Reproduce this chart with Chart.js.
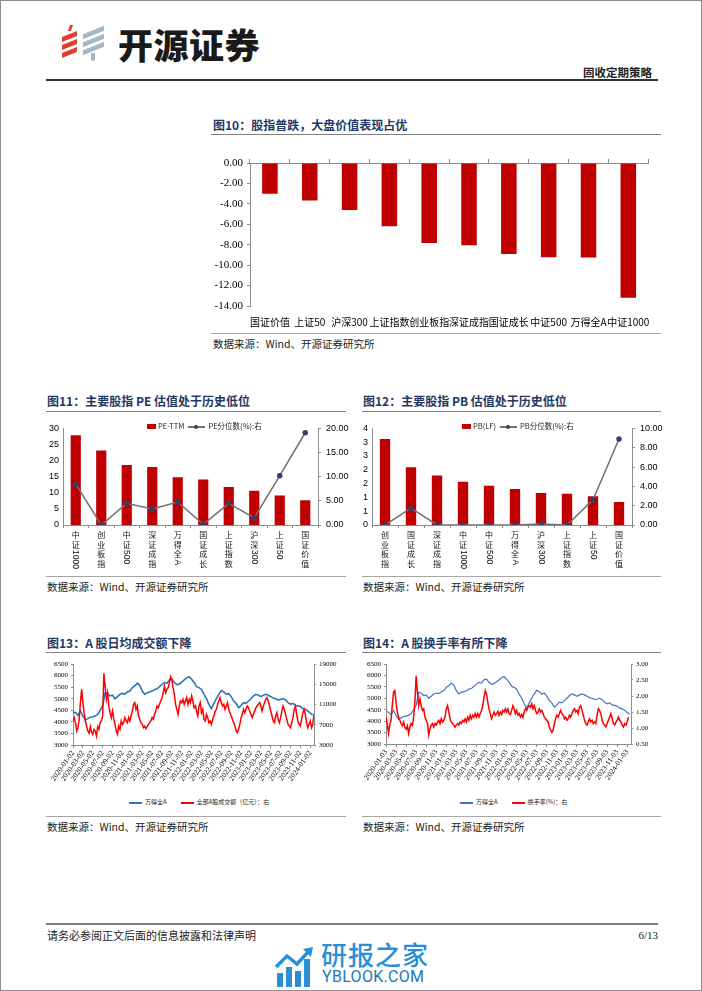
<!DOCTYPE html>
<html>
<head>
<meta charset="utf-8">
<script src="https://cdn.jsdelivr.net/npm/chart.js@4.4.1/dist/chart.umd.min.js"></script>
<style>
html, body { margin: 0; padding: 0; background: #fff; }
#page { position: relative; width: 700px; height: 989px; border: 1px solid #8c8c8c; overflow: hidden; font-family: 'Noto Sans CJK SC', sans-serif; }
.abs { position: absolute; }
.title { position: absolute; font-size: 12px; font-weight: 700; color: #1F3864; white-space: nowrap; line-height: 14px; }
.rule { position: absolute; height: 0; border-top: 1px solid #808080; }
.src { position: absolute; font-size: 10.5px; color: #222; white-space: nowrap; line-height: 12px; }
canvas { position: absolute; }
.legend { position: absolute; white-space: nowrap; color: #222; }
.legend span { display: inline-block; vertical-align: middle; }
.sw-bar { display: inline-block; width: 9px; height: 5px; margin-right: 2px; vertical-align: middle; }
.sw-line { display: inline-block; position: relative; height: 1.5px; margin-right: 3px; vertical-align: middle; }
.sw-line b { position: absolute; left: 6px; top: -1.5px; width: 4px; height: 4px; border-radius: 50%; }
</style>
</head>
<body>
<div id="page">
  <!-- header -->
  <div class="abs" style="left:68px;top:24px;width:3px;height:6px;background:#E0402F;transform:skewX(-20deg)"></div>
  <div class="abs" style="left:61px;top:33px;width:15px;height:5px;background:#E0402F;transform:skewY(-22deg)"></div>
  <div class="abs" style="left:61px;top:41px;width:15px;height:5px;background:#E0402F;transform:skewY(-22deg)"></div>
  <div class="abs" style="left:61px;top:49px;width:15px;height:5px;background:#E0402F;transform:skewY(-22deg)"></div>
  <div class="abs" style="left:82px;top:29px;width:21px;height:5px;background:#A3B7C6;transform:skewY(-22deg)"></div>
  <div class="abs" style="left:82px;top:37px;width:21px;height:5px;background:#A3B7C6;transform:skewY(-22deg)"></div>
  <div class="abs" style="left:82px;top:45px;width:21px;height:5px;background:#A3B7C6;transform:skewY(-22deg)"></div>
  <div class="abs" style="left:90px;top:52px;width:4px;height:8px;background:#A3B7C6;border-radius:0 0 3px 3px"></div>
  <div class="abs" style="left:117px;top:23px;font-size:35px;font-weight:900;line-height:40px;color:#1a1a1a;letter-spacing:0.5px">开源证券</div>
  <div class="abs" style="left:582px;top:64px;font-size:11.5px;font-weight:700;line-height:14px;color:#222">固收定期策略</div>
  <div class="abs" style="left:45px;top:78px;width:612px;height:1.5px;background:#333"></div>

  <!-- figure 10 -->
  <div class="title" style="left:212px;top:117px">图10：股指普跌，大盘价值表现占优</div>
  <div class="rule" style="left:210px;top:133px;width:450px"></div>
  <canvas id="c10" width="455" height="180" style="left:204px;top:149px"></canvas>
  <div class="rule" style="left:210px;top:332px;width:450px;border-color:#a6a6a6"></div>
  <div class="src" style="left:212px;top:337px">数据来源：Wind、开源证券研究所</div>

  <!-- figure 11 -->
  <div class="title" style="left:46px;top:393px">图11：主要股指 PE 估值处于历史低位</div>
  <div class="rule" style="left:45px;top:410px;width:300px"></div>
  <canvas id="c11" width="310" height="155" style="left:39px;top:417px"></canvas>
  <div class="legend" id="lg11" style="left:146px;top:419px;font-size:7.5px;line-height:10px"></div>
  <div class="rule" style="left:45px;top:575px;width:300px;border-color:#a6a6a6"></div>
  <div class="src" style="left:46px;top:580px">数据来源：Wind、开源证券研究所</div>

  <!-- figure 12 -->
  <div class="title" style="left:362px;top:393px">图12：主要股指 PB 估值处于历史低位</div>
  <div class="rule" style="left:361px;top:410px;width:299px"></div>
  <canvas id="c12" width="310" height="155" style="left:354px;top:417px"></canvas>
  <div class="legend" id="lg12" style="left:461px;top:419px;font-size:7.5px;line-height:10px"></div>
  <div class="rule" style="left:361px;top:575px;width:299px;border-color:#a6a6a6"></div>
  <div class="src" style="left:362px;top:580px">数据来源：Wind、开源证券研究所</div>

  <!-- figure 13 -->
  <div class="title" style="left:46px;top:635px">图13：A 股日均成交额下降</div>
  <div class="rule" style="left:45px;top:651px;width:300px"></div>
  <canvas id="c13" width="310" height="140" style="left:39px;top:654px"></canvas>
  <div class="legend" id="lg13" style="left:128px;top:796px;font-size:6px;line-height:10px"></div>
  <div class="rule" style="left:45px;top:815px;width:300px;border-color:#a6a6a6"></div>
  <div class="src" style="left:46px;top:820px">数据来源：Wind、开源证券研究所</div>

  <!-- figure 14 -->
  <div class="title" style="left:362px;top:635px">图14：A 股换手率有所下降</div>
  <div class="rule" style="left:361px;top:651px;width:299px"></div>
  <canvas id="c14" width="310" height="140" style="left:354px;top:654px"></canvas>
  <div class="legend" id="lg14" style="left:459px;top:796px;font-size:6px;line-height:10px"></div>
  <div class="rule" style="left:361px;top:815px;width:299px;border-color:#a6a6a6"></div>
  <div class="src" style="left:362px;top:820px">数据来源：Wind、开源证券研究所</div>

  <!-- footer -->
  <div class="abs" style="left:45px;top:922px;width:612px;height:2px;background:#7a7a7a"></div>
  <div class="abs" style="left:46px;top:928px;font-size:11px;line-height:13px;color:#222">请务必参阅正文后面的信息披露和法律声明</div>
  <div class="abs" style="left:630px;top:928px;width:27px;text-align:right;font-family:'Liberation Serif',serif;font-size:11px;line-height:13px;color:#222">6/13</div>
  <svg class="abs" style="left:274px;top:946px" width="40" height="42" viewBox="0 0 40 42">
    <rect x="2" y="26" width="6" height="14" fill="#2B8FD6"/>
    <rect x="11" y="20" width="6" height="20" fill="#2B8FD6"/>
    <rect x="20" y="24" width="6" height="16" fill="#2B8FD6"/>
    <rect x="29" y="12" width="6" height="28" fill="#2B8FD6"/>
    <polyline points="1,20 12,9 22,17 34,4" fill="none" stroke="#2B8FD6" stroke-width="3.5"/>
    <polygon points="28,2 38,0 36,10" fill="#2B8FD6"/>
  </svg>
  <div class="abs" style="left:320px;top:938px;font-size:26px;font-weight:500;line-height:30px;color:#2B8FD6;letter-spacing:1px">研报之家</div>
  <div class="abs" style="left:321px;top:967px;font-family:Roboto,'Noto Sans',sans-serif;font-size:16px;line-height:18px;color:#2176B8;letter-spacing:0.3px">YBLOOK.COM</div>
</div>

<script>
// 图10 区间涨跌幅(%)
const cat10 = ['国证价值', '上证50', '沪深300', '上证指数', '创业板指', '深证成指', '国证成长', '中证500', '万得全A', '中证1000'];
const ret10 = [-3.02, -3.67, -4.61, -6.20, -7.83, -8.06, -8.90, -9.22, -9.24, -13.19];

// 图11 PE
const cat11 = ['中证1000', '创业板指', '中证500', '深证成指', '万得全A', '国证成长', '上证指数', '沪深300', '上证50', '国证价值'];
const pe11 = [27.9, 23.1, 18.6, 18.0, 14.8, 14.1, 11.8, 10.6, 9.2, 7.7];
const pePct11 = [8.45, 0.0, 4.49, 3.30, 4.75, 0.13, 4.49, 1.45, 10.2, 19.1];

// 图12 PB
const cat12 = ['创业板指', '国证成长', '深证成指', '中证1000', '中证500', '万得全A', '沪深300', '上证指数', '上证50', '国证价值'];
const pb12 = [3.12, 2.09, 1.79, 1.57, 1.42, 1.30, 1.16, 1.13, 1.04, 0.83];
const pbPct12 = [0, 1.75, 0, 0, 0, 0, 0.1, 0, 2.6, 8.9];

// 图13/14 x 轴标签 (每两个月)
const dates13 = ['2020-01-02', '2020-03-02', '2020-05-02', '2020-07-02', '2020-09-02', '2020-11-02',
  '2021-01-02', '2021-03-02', '2021-05-02', '2021-07-02', '2021-09-02', '2021-11-02',
  '2022-01-02', '2022-03-02', '2022-05-02', '2022-07-02', '2022-09-02', '2022-11-02',
  '2023-01-02', '2023-03-02', '2023-05-02', '2023-07-02', '2023-09-02', '2023-11-02', '2024-01-02'];
const dates14 = ['2020-01-03', '2020-03-03', '2020-05-03', '2020-07-03', '2020-09-03', '2020-11-03',
  '2021-01-03', '2021-03-03', '2021-05-03', '2021-07-03', '2021-09-03', '2021-11-03',
  '2022-01-03', '2022-03-03', '2022-05-03', '2022-07-03', '2022-09-03', '2022-11-03',
  '2023-01-03', '2023-03-03', '2023-05-03', '2023-07-03', '2023-09-03', '2023-11-03', '2024-01-03'];

// 万得全A，半月一个点
const windA = [4410, 4400, 4280, 4470, 4250, 4080, 4140, 4210, 4220, 4250,
  4330, 4500, 4690, 5260, 5230, 5120, 5150, 5000, 5090, 5190,
  5230, 5200, 5290, 5330, 5480, 5550, 5670, 5580, 5330, 5190,
  5260, 5290, 5330, 5400, 5430, 5520, 5620, 5700, 5670, 5810,
  5840, 5700, 5610, 5640, 5720, 5810, 5900, 5950, 5840, 5700,
  5520, 5480, 5400, 5190, 5000, 4760, 4570, 4800, 5000, 5190,
  5350, 5290, 5190, 5230, 5090, 4900, 4800, 4610, 4710, 4830,
  4800, 4900, 5000, 5120, 5190, 5150, 5090, 5150, 5190, 5150,
  5090, 5030, 5000, 4950, 4970, 5000, 4950, 4830, 4760, 4800,
  4710, 4690, 4660, 4570, 4540, 4470, 4380, 4300];

// 全部A股成交额(亿元)，每1/4月一个点
const amount13 = [7740, 8400, 7410, 5760, 6420, 8070, 11360, 14000, 11360, 9390,
  7740, 6750, 5760, 5300, 6620, 5570, 5110, 6090, 5760, 4780,
  6620, 6090, 7410, 7740, 8730, 17160, 14650, 12020, 13340, 10700,
  9390, 8400, 9720, 8070, 7080, 5760, 5110, 6750, 6090, 7740,
  7080, 7410, 8400, 7740, 7410, 8400, 7740, 8730, 9720, 11030,
  11360, 10040, 10700, 8730, 8070, 7410, 7080, 6420, 6750, 6220,
  6620, 7080, 7410, 7740, 8400, 8070, 9060, 9720, 10700, 10370,
  11030, 11690, 12350, 13340, 14650, 13340, 14000, 14320, 15310, 16500,
  15970, 14320, 13010, 11030, 10040, 9060, 10700, 11690, 11360, 12020,
  11030, 11690, 12350, 11030, 12020, 11360, 12680, 11690, 10370, 10700,
  9720, 8730, 10700, 11360, 9390, 10040, 8070, 7740, 9060, 8400,
  7410, 7740, 7080, 8070, 8730, 9720, 10040, 11030, 11690, 12350,
  11360, 10700, 11030, 10040, 10700, 11360, 10040, 9390, 8730, 8070,
  7410, 6750, 5760, 5440, 6090, 7080, 8400, 9060, 10040, 9390,
  10040, 10700, 10370, 9720, 9060, 8400, 9060, 9720, 10370, 10700,
  11030, 11360, 10700, 9720, 10700, 11360, 12020, 12350, 11690, 10700,
  9720, 8730, 7740, 7410, 8730, 9390, 8070, 7410, 8400, 9720,
  10700, 10040, 9060, 8070, 7080, 6750, 6420, 7410, 8400, 10040,
  10700, 9060, 7740, 7080, 6750, 8070, 9390, 10040, 9060, 7410,
  6420, 7080, 7740, 6420, 7080, 9060];

// 换手率(%)，每1/4月一个点
const turnover14 = [1.34, 1.14, 0.83, 1.09, 1.24, 1.70, 2.12, 2.17, 1.81, 1.50,
  1.34, 1.24, 1.14, 1.07, 1.19, 1.03, 0.96, 1.07, 0.83, 1.03,
  1.14, 1.09, 1.34, 1.81, 2.63, 2.12, 1.70, 1.91, 1.70, 1.55,
  1.60, 1.34, 1.24, 1.14, 0.78, 0.98, 1.09, 1.14, 1.03, 1.14,
  1.09, 1.19, 1.24, 1.14, 1.29, 1.19, 1.24, 1.34, 1.60, 1.70,
  1.50, 1.29, 1.19, 1.14, 1.09, 1.03, 1.09, 1.14, 1.09, 1.19,
  1.14, 1.24, 1.19, 1.29, 1.19, 1.34, 1.24, 1.40, 1.29, 1.40,
  1.34, 1.45, 1.34, 1.45, 1.34, 1.45, 1.55, 1.70, 1.96, 2.17,
  2.06, 1.81, 1.60, 1.45, 1.29, 1.40, 1.50, 1.40, 1.45, 1.52,
  1.40, 1.50, 1.42, 1.55, 1.50, 1.60, 1.50, 1.60, 1.45, 1.42,
  1.55, 1.70, 1.60, 1.45, 1.55, 1.40, 1.45, 1.34, 1.42, 1.33,
  1.50, 1.60, 1.55, 1.65, 1.70, 1.65, 1.76, 1.60, 1.70, 1.55,
  1.45, 1.50, 1.60, 1.50, 1.55, 1.45, 1.34, 1.29, 1.24, 1.19,
  1.03, 0.93, 0.86, 0.93, 1.14, 1.29, 1.40, 1.34, 1.45, 1.55,
  1.45, 1.40, 1.29, 1.34, 1.24, 1.29, 1.40, 1.34, 1.45, 1.55,
  1.60, 1.50, 1.55, 1.45, 1.65, 1.70, 1.55, 1.40, 1.24, 1.14,
  1.09, 1.19, 1.29, 1.19, 1.24, 1.14, 1.19, 1.14, 1.40, 1.60,
  1.55, 1.45, 1.24, 1.14, 1.09, 1.03, 1.14, 1.24, 1.34, 1.45,
  1.29, 1.14, 1.09, 1.19, 1.24, 1.34, 1.24, 1.19, 1.09, 1.03,
  1.14, 1.09, 1.19, 1.34];

const CJK = "'Noto Sans CJK SC', sans-serif";
const SERIF = "'Liberation Serif', 'DejaVu Serif', serif";
const NARROW = "'Liberation Sans Narrow', 'Liberation Sans', sans-serif";
const AXIS = '#8c8c8c';
const RED = '#C00000';

Chart.defaults.animation = false;
Chart.defaults.responsive = false;
Chart.defaults.color = '#000';
Chart.defaults.font.family = CJK;
Chart.defaults.plugins.legend.display = false;
Chart.defaults.plugins.tooltip.enabled = false;

const fixW = w => s => { s.width = w; };
const fixH = h => s => { s.height = h; };

// 竖排的类目标签：汉字直立，数字/字母转 90 度
const vertLabels = {
  id: 'vertLabels',
  afterDraw(chart) {
    const xs = chart.scales.x, ctx = chart.ctx;
    ctx.save();
    ctx.fillStyle = '#111';
    chart.data.labels.forEach((lab, i) => {
      const px = xs.getPixelForTick(i);
      let py = xs.top + 6;
      lab.match(/[\u4e00-\u9fff]|[A-Za-z0-9]+/g).forEach(p => {
        if (/[\u4e00-\u9fff]/.test(p)) {
          ctx.font = '8px ' + CJK;
          ctx.textAlign = 'center';
          ctx.textBaseline = 'top';
          ctx.fillText(p, px, py);
          py += 9.5;
        } else {
          ctx.font = '8.5px ' + NARROW;
          const w = ctx.measureText(p).width;
          ctx.save();
          ctx.translate(px, py);
          ctx.rotate(Math.PI / 2);
          ctx.textAlign = 'left';
          ctx.textBaseline = 'middle';
          ctx.fillText(p, 0, 0);
          ctx.restore();
          py += w + 2;
        }
      });
    });
    ctx.restore();
  }
};

function htmlLegend(chart, id) {
  const el = document.getElementById(id);
  el.innerHTML = chart.data.datasets.map(ds => {
    const isBar = (ds.type || chart.config.type) === 'bar';
    const sw = isBar
      ? `<i class="sw-bar" style="background:${ds.backgroundColor}"></i>`
      : `<i class="sw-line" style="width:${ds.pointRadius ? 17 : 13}px;background:${ds.borderColor}">` +
        (ds.pointRadius ? `<b style="background:${ds.pointBackgroundColor}"></b>` : '') + '</i>';
    return `<span style="margin-right:${isBar ? 4 : 14}px">${sw}${ds.label}</span>`;
  }).join('');
}

// 图10
new Chart(document.getElementById('c10'), {
  type: 'bar',
  data: {
    labels: cat10,
    datasets: [{ label: '涨跌幅(%)', data: ret10, backgroundColor: RED, barPercentage: 0.39, categoryPercentage: 1 }]
  },
  options: {
    layout: { padding: { top: 13, right: 8 } },
    scales: {
      x: {
        grid: { display: false, drawTicks: false }, border: { display: false },
        ticks: { autoSkip: false, maxRotation: 0, padding: 10, font: { size: 10 } },
        afterFit: fixH(24)
      },
      xTop: {
        type: 'category', position: 'top', offset: true,
        grid: { offset: true, drawOnChartArea: false, tickLength: 4, color: AXIS },
        border: { color: AXIS }, ticks: { display: false }, afterFit: fixH(0)
      },
      y: {
        min: -14, max: 0,
        ticks: { stepSize: 2, padding: 4, callback: v => v.toFixed(2), font: { family: SERIF, size: 11 } },
        grid: { drawOnChartArea: false, tickLength: 3, color: AXIS }, border: { color: AXIS },
        afterFit: fixW(45)
      }
    }
  }
});

function valuationChart(id, labels, bars, barLabel, line, lineLabel, leftMax, leftStep, leftFmt, rightMax, rightStep, leftW, rightW, padTop) {
  return new Chart(document.getElementById(id), {
    type: 'bar',
    data: {
      labels: labels,
      datasets: [
        { label: barLabel, data: bars, backgroundColor: RED, barPercentage: 0.4, categoryPercentage: 1, yAxisID: 'y', order: 2 },
        { type: 'line', label: lineLabel, data: line, borderColor: '#707070', borderWidth: 1.5, pointRadius: 2,
          pointBackgroundColor: '#34406A', pointBorderColor: '#34406A', yAxisID: 'y1', order: 1 }
      ]
    },
    options: {
      layout: { padding: { top: padTop } },
      scales: {
        x: {
          grid: { offset: true, drawOnChartArea: false, tickLength: 3, color: AXIS }, border: { color: AXIS },
          ticks: { display: false }, afterFit: fixH(48)
        },
        y: {
          min: 0, max: leftMax,
          ticks: { stepSize: leftStep, padding: 4, callback: leftFmt, font: { family: NARROW, size: 9 } },
          grid: { display: false, drawTicks: false }, border: { color: AXIS }, afterFit: fixW(leftW)
        },
        y1: {
          position: 'right', min: 0, max: rightMax,
          ticks: { stepSize: rightStep, padding: 5, callback: v => v.toFixed(2), font: { family: NARROW, size: 9 } },
          grid: { drawOnChartArea: false, tickLength: 3, color: AXIS }, border: { color: AXIS }, afterFit: fixW(rightW)
        }
      }
    },
    plugins: [vertLabels]
  });
}

const ch11 = valuationChart('c11', cat11, pe11, 'PE-TTM', pePct11, 'PE分位数(%):右', 30, 5, v => String(v), 20, 5, 23, 32, 7);
htmlLegend(ch11, 'lg11');
const ch12 = valuationChart('c12', cat12, pb12, 'PB(LF)', pbPct12, 'PB分位数(%):右', 3.5, 0.5, v => v.toFixed(0), 10, 2, 17, 33, 6);
htmlLegend(ch12, 'lg12');

function flowChart(id, blue, blueColor, blueWidth, red, redLabel, dates, rMin, rMax, rStep, rFmt, leftW, rightW, bottomH) {
  return new Chart(document.getElementById(id), {
    type: 'line',
    data: {
      datasets: [
        { label: '万得全A', data: blue.map((v, i) => ({ x: i * 0.5, y: v })), borderColor: blueColor, borderWidth: blueWidth,
          pointRadius: 0, yAxisID: 'y', order: 2 },
        { label: redLabel, data: red.map((v, i) => ({ x: i * 0.25, y: v })), borderColor: '#FF0000', borderWidth: 1.5,
          pointRadius: 0, yAxisID: 'y1', order: 1 }
      ]
    },
    options: {
      layout: { padding: { top: 9 } },
      scales: {
        x: {
          type: 'linear', min: 0, max: 48.75,
          grid: { drawOnChartArea: false, tickLength: 3, color: AXIS }, border: { color: AXIS },
          ticks: { stepSize: 2, includeBounds: false, autoSkip: false, minRotation: 55, maxRotation: 55, padding: 1,
            font: { family: SERIF, size: 7.5 }, callback: v => dates[v / 2] },
          afterFit: fixH(bottomH)
        },
        y: {
          min: 3000, max: 6500,
          ticks: { stepSize: 500, padding: 3, callback: v => String(v), font: { family: SERIF, size: 7 } },
          grid: { drawOnChartArea: false, tickLength: 2, color: AXIS }, border: { color: AXIS }, afterFit: fixW(leftW)
        },
        y1: {
          position: 'right', min: rMin, max: rMax,
          ticks: { stepSize: rStep, padding: 3, callback: rFmt, font: { family: SERIF, size: 7 } },
          grid: { drawOnChartArea: false, tickLength: 2, color: AXIS }, border: { color: AXIS }, afterFit: fixW(rightW)
        }
      }
    }
  });
}

const ch13 = flowChart('c13', windA, '#2E75B6', 1.6, amount13, '全部A股成交额（亿元）：右', dates13,
  3000, 19000, 2000, v => String(v), 33, 36, 50);
htmlLegend(ch13, 'lg13');
const ch14 = flowChart('c14', windA, '#4472C4', 1.2, turnover14, '换手率(%)：右', dates14,
  0.5, 3.0, 0.5, v => v.toFixed(2), 31, 34, 51);
htmlLegend(ch14, 'lg14');
</script>
</body>
</html>
